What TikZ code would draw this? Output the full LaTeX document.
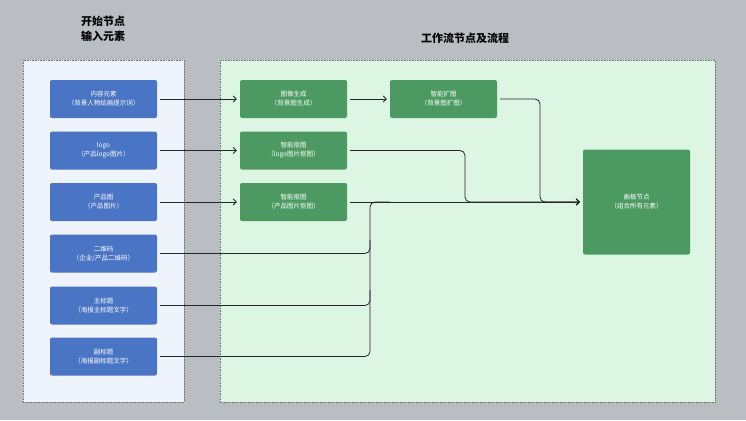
\documentclass[tikz,border=0pt]{standalone}
\usepackage{fontspec}
\setmainfont{Noto Sans CJK SC}
\usetikzlibrary{arrows.meta}
\definecolor{bg}{HTML}{BABDC2}
\definecolor{lbox}{HTML}{EEF3FC}
\definecolor{gbox}{HTML}{DDF5E3}
\definecolor{bnode}{HTML}{4A74C4}
\definecolor{gnode}{HTML}{4C9A62}
\begin{document}
\begin{tikzpicture}[x=1pt,y=-1pt,
  bn/.style={fill=bnode,rounded corners=2pt,minimum width=107pt,minimum height=38pt,text=white,font=\fontsize{6.5}{9}\selectfont,align=center,inner sep=0},
  gn/.style={bn,fill=gnode},
  ar/.style={draw=black!85,line width=0.8pt,-{Straight Barb[length=3pt,width=6pt]},rounded corners=5pt},
  ln/.style={draw=black!85,line width=0.8pt,rounded corners=5pt},
  cont/.style={densely dotted,draw=black!55,line width=0.6pt}]
\fill[bg] (0,0) rectangle (746,420);
\useasboundingbox (0,0) rectangle (746,420);
\draw[cont,fill=lbox] (23,60) rectangle (184,402);
\draw[cont,fill=gbox] (220,60) rectangle (715,402);
\node[font=\bfseries\fontsize{11}{15}\selectfont,align=left] (t1) at (103,29) {开始节点\\输入元素};
\node[font=\bfseries\fontsize{11}{15}\selectfont] (t2) at (465,38) {工作流节点及流程};
\node[bn] (b1) at (103.5,99) {内容元素\\（背景人物绘画提示词）};
\node[bn] (b2) at (103.5,150.5) {logo\\（产品logo图片）};
\node[bn] (b3) at (103.5,202) {产品图\\（产品图片）};
\node[bn] (b4) at (103.5,253.5) {二维码\\（企业/产品二维码）};
\node[bn] (b5) at (103.5,305.5) {主标题\\（海报主标题文字）};
\node[bn] (b6) at (103.5,356.5) {副标题\\（海报副标题文字）};
\node[gn] (g1) at (293.5,99) {图像生成\\（背景图生成）};
\node[gn] (g2) at (293.5,150.5) {智能抠图\\（logo图片抠图）};
\node[gn] (g3) at (293.5,202) {智能抠图\\（产品图片抠图）};
\node[gn] (g4) at (443.5,99) {智能扩图\\（背景图扩图）};
\node[gn,minimum height=105pt] (cv) at (636.5,202) {画板节点\\（组合所有元素）};
\draw[ar] ([xshift=3pt]b1.east) -- ([xshift=-3pt]g1.west);
\draw[ar] ([xshift=3pt]b2.east) -- ([xshift=-3pt]g2.west);
\draw[ar] ([xshift=3pt]b3.east) -- ([xshift=-3pt]g3.west);
\draw[ar] ([xshift=3pt]g1.east) -- ([xshift=-3pt]g4.west);
\draw[ar] ([xshift=3pt]g4.east) -- (540,99) -- (540,202) -- ([xshift=-3pt]cv.west);
\draw[ar] ([xshift=3pt]g2.east) -- (465,150.5) -- (465,202) -- ([xshift=-3pt]cv.west);
\draw[ar] ([xshift=3pt]g3.east) -- ([xshift=-3pt]cv.west);
\draw[ln] ([xshift=3pt]b4.east) -- (370,253.5) -- (370,202) -- (390,202);
\draw[ln] ([xshift=3pt]b5.east) -- (370,305.5) -- (370,240);
\draw[ln] ([xshift=3pt]b6.east) -- (370,356.5) -- (370,290);
\end{tikzpicture}
\end{document}
